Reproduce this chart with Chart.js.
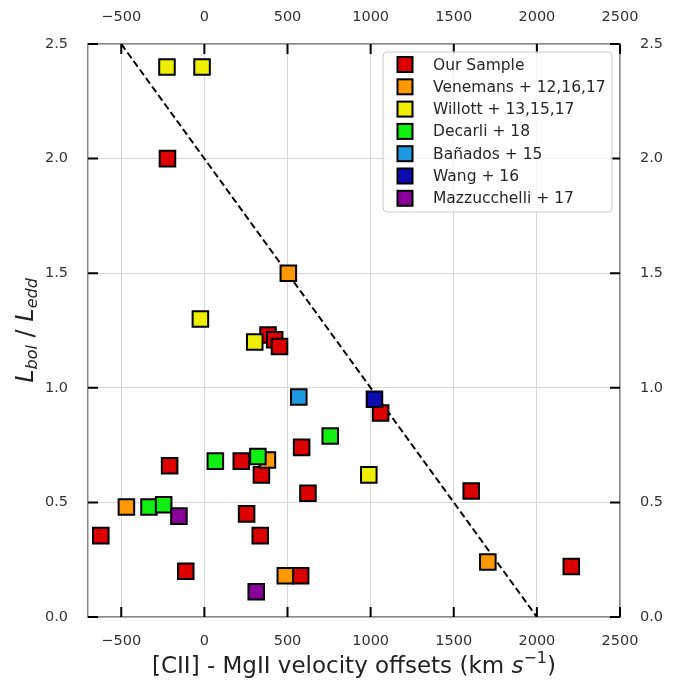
<!DOCTYPE html>
<html>
<head>
<meta charset="utf-8">
<script src="https://cdn.jsdelivr.net/npm/chart.js@4.4.1/dist/chart.umd.min.js"></script>
<style>
  html, body { margin: 0; padding: 0; background: #fff; }
  #wrap { width: 680px; height: 683px; }
</style>
</head>
<body>
<div id="wrap"><canvas id="offsetChart" width="680" height="683"></canvas></div>
<script>
// [CII] - MgII velocity offset (km/s) against Eddington ratio, per sample
const ourSampleOffset = [-222, 383, 423, 452, 1060, 585, -209, 222, 343, 623, 254, -623, 336, -112, 579, 1605, 2207];
const ourSampleRatio  = [2.00, 1.23, 1.21, 1.18, 0.89, 0.74, 0.66, 0.68, 0.62, 0.54, 0.45, 0.355, 0.355, 0.20, 0.18, 0.55, 0.22];

const venemansOffset = [505, 379, -469, 487, 1705];
const venemansRatio  = [1.50, 0.685, 0.48, 0.18, 0.24];

const willottOffset = [-225, -14, -24, 303, 989];
const willottRatio  = [2.40, 2.40, 1.30, 1.20, 0.62];

const decarliOffset = [757, 66, 322, -333, -245];
const decarliRatio  = [0.79, 0.68, 0.70, 0.48, 0.49];

const banadosOffset = [568];
const banadosRatio  = [0.96];

const wangOffset = [1023];
const wangRatio  = [0.95];

const mazzucchelliOffset = [-153, 312];
const mazzucchelliRatio  = [0.44, 0.11];

const sampleLabels = ['Our Sample', 'Venemans + 12,16,17', 'Willott + 13,15,17', 'Decarli + 18',
                      'Bañados + 15', 'Wang + 16', 'Mazzucchelli + 17'];
const sampleColors = ['#dd0000', '#ff9900', '#eeee00', '#11ee11', '#1e9be0', '#0c0cb0', '#880099'];
const sampleOffsets = [ourSampleOffset, venemansOffset, willottOffset, decarliOffset,
                       banadosOffset, wangOffset, mazzucchelliOffset];
const sampleRatios = [ourSampleRatio, venemansRatio, willottRatio, decarliRatio,
                      banadosRatio, wangRatio, mazzucchelliRatio];

// dashed relation line
const relationOffset = [-500, 2000];
const relationRatio  = [2.5, 0];

const xTickValues = [-500, 0, 500, 1000, 1500, 2000, 2500];
const yTickValues = [0, 0.5, 1.0, 1.5, 2.0, 2.5];

const FONT = 'DejaVu Sans';
const TEXT = '#333333';
const TICK_LEN = 10;

function zip(xs, ys) {
    return xs.map((x, i) => ({ x: x, y: ys[i] }));
}

const datasets = sampleLabels.map((label, i) => ({
    label: label,
    data: zip(sampleOffsets[i], sampleRatios[i]),
    pointStyle: 'rect',
    pointRadius: 11,
    pointBackgroundColor: sampleColors[i],
    pointBorderColor: '#000',
    pointBorderWidth: 2,
    showLine: false,
    // later samples sit on top
    order: sampleLabels.length - i
}));

datasets.push({
    label: '',
    data: zip(relationOffset, relationRatio),
    showLine: true,
    borderColor: '#000',
    borderWidth: 2,
    borderDash: [7, 3.5],
    pointRadius: 0,
    order: 99
});

function fmtX(v) {
    return v < 0 ? '\u2212' + Math.abs(v) : String(v);
}
function fmtY(v) {
    return Number(v).toFixed(1);
}

function axis(position, min, max, values, fmt, size, pad, showGrid) {
    const horizontal = position === 'top' || position === 'bottom';
    return {
        type: 'linear',
        position: position,
        min: min,
        max: max,
        afterBuildTicks: s => { s.ticks = values.map(v => ({ value: v })); },
        afterFit: s => { if (horizontal) s.height = size; else s.width = size; },
        grid: { display: showGrid, color: '#d6d6d6', lineWidth: 1, drawTicks: false },
        border: { display: true, color: '#8a8a8a', width: 1.5 },
        ticks: {
            padding: pad,
            color: TEXT,
            font: { family: FONT, size: 14.5 },
            maxRotation: 0,
            autoSkip: false,
            callback: fmt
        }
    };
}

// matplotlib-style ticks pointing into the plot on all four sides
const inwardTicks = {
    id: 'inwardTicks',
    afterDraw(chart) {
        const { ctx, chartArea: a } = chart;
        ctx.save();
        ctx.strokeStyle = '#000';
        ctx.lineWidth = 2;
        ctx.beginPath();
        Object.values(chart.scales).forEach(scale => {
            scale.ticks.forEach(t => {
                const p = scale.getPixelForValue(t.value);
                if (scale.position === 'bottom') { ctx.moveTo(p, a.bottom); ctx.lineTo(p, a.bottom - TICK_LEN); }
                if (scale.position === 'top') { ctx.moveTo(p, a.top); ctx.lineTo(p, a.top + TICK_LEN); }
                if (scale.position === 'left') { ctx.moveTo(a.left, p); ctx.lineTo(a.left + TICK_LEN, p); }
                if (scale.position === 'right') { ctx.moveTo(a.right, p); ctx.lineTo(a.right - TICK_LEN, p); }
            });
        });
        ctx.stroke();
        ctx.restore();
    }
};

function drawRuns(ctx, runs, x, y) {
    let total = 0;
    runs.forEach(r => { ctx.font = r.font; total += ctx.measureText(r.text).width; });
    let cx = x - total / 2;
    runs.forEach(r => {
        ctx.font = r.font;
        ctx.fillText(r.text, cx, y + (r.dy || 0));
        cx += ctx.measureText(r.text).width;
    });
}

// axis titles with sub/superscripts
const axisTitles = {
    id: 'axisTitles',
    afterDraw(chart) {
        const { ctx, chartArea: a } = chart;
        ctx.save();
        ctx.fillStyle = '#222';
        ctx.textBaseline = 'alphabetic';
        ctx.textAlign = 'left';
        const midX = (a.left + a.right) / 2;
        drawRuns(ctx, [
            { text: '[CII] - MgII velocity offsets (km ', font: '23px ' + FONT },
            { text: 's', font: 'italic 23px ' + FONT },
            { text: '\u22121', font: '16px ' + FONT, dy: -10 },
            { text: ')', font: '23px ' + FONT }
        ], midX, a.bottom + 56);

        const midY = (a.top + a.bottom) / 2;
        ctx.translate(33, midY);
        ctx.rotate(-Math.PI / 2);
        drawRuns(ctx, [
            { text: 'L', font: 'italic 24px ' + FONT },
            { text: 'bol', font: 'italic 16px ' + FONT, dy: 4 },
            { text: ' / ', font: '24px ' + FONT },
            { text: 'L', font: 'italic 24px ' + FONT },
            { text: 'edd', font: 'italic 16px ' + FONT, dy: 4 }
        ], 0, 0);
        ctx.restore();
    }
};

// framed legend in the upper right of the plot
const boxLegend = {
    id: 'boxLegend',
    afterDraw(chart) {
        const { ctx, chartArea: a } = chart;
        const items = chart.data.datasets.filter(d => d.label);
        const boxL = a.right - 237, boxT = a.top + 8, boxW = 229, boxH = 160;
        const rowH = 22.3;
        ctx.save();
        ctx.beginPath();
        ctx.roundRect(boxL, boxT, boxW, boxH, 4);
        ctx.fillStyle = 'rgba(255,255,255,0.8)';
        ctx.fill();
        ctx.strokeStyle = '#cccccc';
        ctx.lineWidth = 1;
        ctx.stroke();
        ctx.textBaseline = 'middle';
        ctx.textAlign = 'left';
        ctx.font = '15.5px ' + FONT;
        items.forEach((d, i) => {
            const cy = boxT + 12.5 + i * rowH;
            const cx = boxL + 22;
            ctx.fillStyle = d.pointBackgroundColor;
            ctx.fillRect(cx - 7.5, cy - 7.5, 15, 15);
            ctx.strokeStyle = '#000';
            ctx.lineWidth = 2;
            ctx.strokeRect(cx - 7.5, cy - 7.5, 15, 15);
            ctx.fillStyle = '#262626';
            ctx.fillText(d.label, boxL + 50, cy + 1);
        });
        ctx.restore();
    }
};

new Chart(document.getElementById('offsetChart'), {
    type: 'scatter',
    data: { datasets: datasets },
    plugins: [inwardTicks, axisTitles, boxLegend],
    options: {
        responsive: false,
        animation: false,
        events: [],
        layout: { padding: 0 },
        scales: {
            x: axis('bottom', -700, 2500, xTickValues, fmtX, 66, 16, true),
            x2: axis('top', -700, 2500, xTickValues, fmtX, 44, 18, false),
            y: axis('left', 0, 2.5, yTickValues, fmtY, 88, 20, true),
            y2: axis('right', 0, 2.5, yTickValues, fmtY, 60, 20, false)
        },
        plugins: {
            legend: { display: false },
            tooltip: { enabled: false }
        }
    }
});
</script>
</body>
</html>
